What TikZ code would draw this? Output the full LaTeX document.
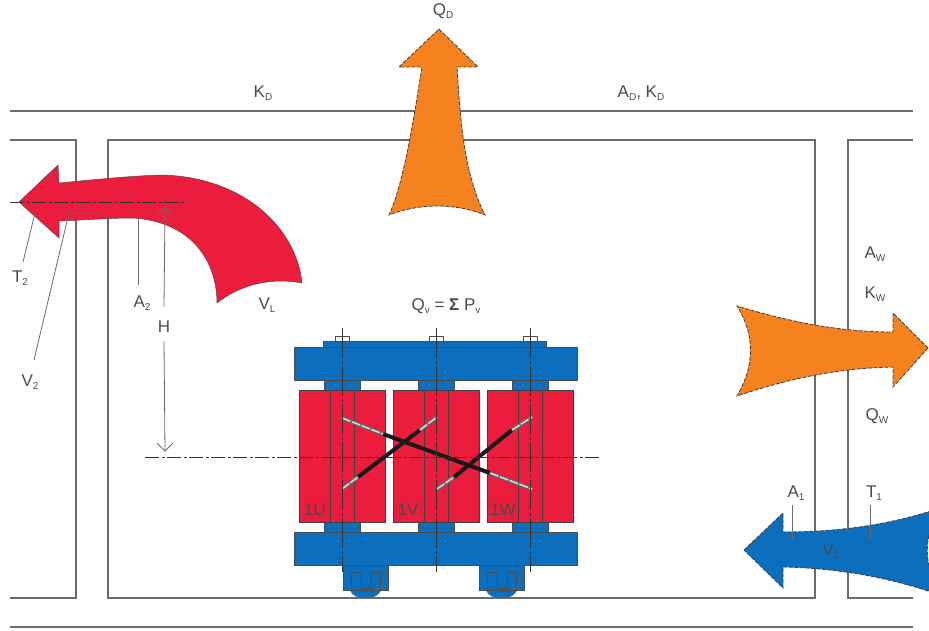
\documentclass[tikz,border=0pt]{standalone}
\usepackage{fontspec}
\setmainfont{Liberation Sans}
\definecolor{hotred}{HTML}{EC1C3C}
\definecolor{coolblue}{HTML}{0B6FBE}
\definecolor{heatorange}{HTML}{F5821F}
\definecolor{wallgrey}{HTML}{6A6A6A}
\definecolor{textgrey}{HTML}{4A4A4A}
\newcommand{\low}[1]{\raisebox{-3.5pt}{\fontsize{10}{10}\selectfont #1}}
\tikzset{
  wall/.style={draw=wallgrey,line width=1.1pt},
  leader/.style={draw=wallgrey,line width=0.8pt},
  axis/.style={draw=black!80,line width=0.7pt,dash pattern=on 14pt off 2.5pt on 3pt off 2.5pt},
  label/.style={text=textgrey,font=\fontsize{17}{19}\selectfont,inner sep=0pt},
  steel/.style={fill=coolblue,draw=black!70,line width=0.6pt},
  coil/.style={fill=hotred,draw=black!75,line width=0.7pt},
  flow/.style={draw=black!75,line width=0.8pt,dash pattern=on 4pt off 1.5pt},
  cablecore/.style={draw=black!90,line width=4pt},
  cableend/.style={draw=black!60,line width=4pt,postaction={draw=white!85!black,line width=1.5pt,dash pattern=on 9pt off 1.5pt}}
}
\begin{document}
\begin{tikzpicture}[x=1pt,y=-1pt]
  \useasboundingbox (0,0) rectangle (929,631);
  % building
  \draw[wall] (10,111) -- (913,111);
  \draw[wall] (10,140) -- (76,140) -- (76,598) -- (10,598);
  \draw[wall] (108,140) -- (815,140) -- (815,598) -- (108,598) -- cycle;
  \draw[wall] (913,140) -- (848,140) -- (848,598) -- (913,598);
  \draw[wall] (10,627) -- (913,627);
  % air and heat flows
  \fill[hotred,draw=black!70,line width=0.5pt] (19,202) -- (58,165) -- (59,183)
    .. controls (90,180) and (130,176) .. (160,175)
    .. controls (240,176) and (296,225) .. (302,283)
    .. controls (270,277) and (240,285) .. (217,303)
    .. controls (217,265) and (195,222) .. (133,218)
    .. controls (110,218) and (85,220) .. (59,221) -- (59,238) -- cycle;
  \fill[heatorange,flow] (439,29) -- (478,67) -- (457,67)
    .. controls (460,110) and (462,170) .. (485,215)
    .. controls (455,203) and (420,203) .. (389,215)
    .. controls (405,180) and (415,110) .. (422,67) -- (399,67) -- cycle;
  \fill[heatorange,flow] (928,348) -- (893,313) -- (893,332)
    .. controls (840,332) and (790,322) .. (737,306)
    .. controls (755,335) and (755,365) .. (737,396)
    .. controls (790,378) and (840,368) .. (893,367) -- (893,387) -- cycle;
  \fill[coolblue,flow] (744,550) -- (783,513) -- (783,532)
    .. controls (830,532) and (880,527) .. (931,511) -- (931,530)
    .. controls (926,540) and (926,560) .. (931,572) -- (931,592)
    .. controls (880,575) and (830,568) .. (783,567) -- (783,588) -- cycle;
  % transformer
  \foreach \cx in {342,436,530} {
    \draw[steel] (\cx-18,378) rectangle (\cx+18,392);
    \draw[steel] (\cx-18,520) rectangle (\cx+18,534);
    \draw[coil] (\cx-43,390) rectangle (\cx+43,522);
    \draw[black!75,line width=0.7pt] (\cx-12,390) -- (\cx-12,522) (\cx+12,390) -- (\cx+12,522);
    \draw[black!70,line width=0.6pt] (\cx-7,341) |- (\cx+7,336) -- (\cx+7,341);
  }
  \draw[steel] (323,347) |- (546,341) -- (546,347);
  \draw[steel] (294,347) rectangle (577,380);
  \draw[steel] (294,532) rectangle (577,565);
  \foreach \wx in {0,136} {
    \begin{scope}[xshift=\wx pt]
      \fill[coolblue,draw=black!60,line width=0.5pt] (350,590) .. controls (354,601) and (377,601) .. (381,590) -- cycle;
      \draw[steel] (343,565) rectangle (388,590);
      \draw[black!70,line width=0.7pt] (351,590) -- (351,572) -- (361,572) -- (361,588) -- (371,588)
        -- (371,572) -- (380,572) -- (380,590);
    \end{scope}
  }
  % cables
  \draw[cablecore] (383,434) -- (490,473);
  \draw[cablecore] (358,477) -- (420,430);
  \draw[cablecore] (454,477) -- (512,430);
  \draw[cableend] (342,418) -- (383,434);
  \draw[cableend] (490,473) -- (532,489);
  \draw[cableend] (342,489) -- (358,477);
  \draw[cableend] (420,430) -- (437,417);
  \draw[cableend] (437,489) -- (454,477);
  \draw[cableend] (512,430) -- (532,417);
  % centre lines
  \foreach \cx in {342,436,530}
    \draw[black!80,line width=0.7pt,dash pattern=on 30pt off 2.5pt on 3pt off 2.5pt] (\cx,328) -- (\cx,572);
  \draw[axis] (145,457) -- (600,457);
  \draw[axis] (10,202) -- (186,202);
  % labels
  \node[label] (qd) at (443,11) {Q\low{D}};
  \node[label] (kd) at (263,93) {K\low{D}};
  \node[label] (adkd) at (641,93) {A\low{D}, K\low{D}};
  \node[label] (qv) at (446,306) {Q\low{v} = \textbf{Σ} P\low{v}};
  \node[label] (aw) at (875,254) {A\low{W}};
  \node[label] (kw) at (875,294) {K\low{W}};
  \node[label] (qw) at (877,416) {Q\low{W}};
  \node[label] (a1) at (796,493) {A\low{1}};
  \node[label] (t1) at (874,493) {T\low{1}};
  \node[label] (v1) at (831,551) {V\low{1}};
  \node[label] (t2) at (20,278) {T\low{2}};
  \node[label] (v2) at (30,382) {V\low{2}};
  \node[label] (a2) at (142,303) {A\low{2}};
  \node[label] (h) at (164,327) {H};
  \node[label] (vl) at (267,305) {V\low{L}};
  \node[label] (u1) at (315,510) {1U};
  \node[label] (v1w) at (408,510) {1V};
  \node[label] (w1) at (503,510) {1W};
  % leaders
  \coordinate (t2end) at (35,213);
  \coordinate (v2bend) at (69,213);
  \coordinate (v2end) at (97,213);
  \coordinate (a2end) at (138,218);
  \coordinate (a1end) at (792,540);
  \coordinate (t1end) at (870,540);
  \coordinate (htop) at (165,207);
  \coordinate (hbot) at (165,451);
  \draw[leader] (23,262) -- (t2end);
  \draw[leader] (34,360) -- (v2bend) -- (v2end);
  \draw[leader] (138,285) -- (a2end);
  \draw[leader] (792,505) -- (a1end);
  \draw[leader] (870,505) -- (t1end);
  \draw[leader] (h.north) ++(0,-14) -- (htop);
  \draw[leader] (htop) -- +(-8,8) (htop) -- +(8,8);
  \draw[leader] (h.south) ++(0,8) -- (hbot);
  \draw[leader] (hbot) -- +(-8,-8) (hbot) -- +(8,-8);
\end{tikzpicture}
\end{document}
